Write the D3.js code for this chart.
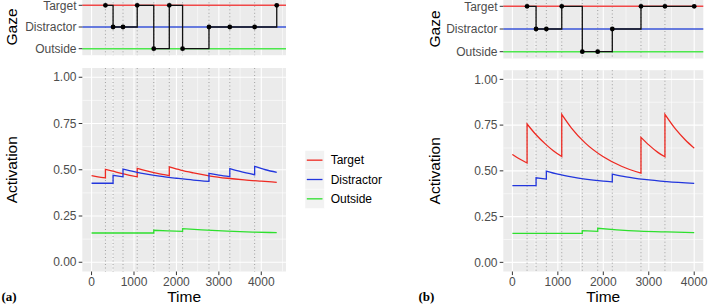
<!DOCTYPE html>
<html><head><meta charset="utf-8">
<script src="https://cdn.jsdelivr.net/npm/d3@7"></script>
<style>body{margin:0;background:#fff}svg{display:block}text{font-family:"Liberation Sans",Arial,sans-serif}text.tag{font-family:"Liberation Serif","Times New Roman",serif;font-weight:bold}</style>
</head><body><svg id="c" width="709" height="305"></svg>
<script>
// ---------- data ----------
const xTicks = [0, 1000, 2000, 3000, 4000];
const xTickLabels = ["0", "1000", "2000", "3000", "4000"];
const yTicks = [0, 0.25, 0.5, 0.75, 1];
const yTickLabels = ["0.00", "0.25", "0.50", "0.75", "1.00"];
const gazeLevels = ["Target", "Distractor", "Outside"];
const seriesNames = ["Target", "Distractor", "Outside"];

// panel (a)
const gazeTimeA = [327, 507, 741, 1076, 1466, 1832, 2145, 2767, 3258, 3843, 4364];
const gazeStateA = ["Target", "Distractor", "Distractor", "Target", "Outside", "Target", "Outside", "Distractor", "Distractor", "Distractor", "Target"];
const targetA = [[0,0.468],[150,0.462],[327,0.456],[327,0.502],[500,0.492],[700,0.480],[900,0.470],[1076,0.462],[1076,0.508],[1300,0.494],[1550,0.480],[1832,0.468],[1832,0.515],[2100,0.498],[2400,0.483],[2800,0.466],[3200,0.454],[3600,0.445],[4000,0.438],[4364,0.432]];
const distractorA = [[0,0.427],[507,0.427],[507,0.470],[741,0.462],[741,0.504],[1000,0.490],[1300,0.476],[1600,0.465],[2000,0.454],[2400,0.444],[2767,0.437],[2767,0.481],[3000,0.471],[3258,0.463],[3258,0.506],[3500,0.491],[3843,0.473],[3843,0.518],[4100,0.500],[4364,0.486]];
const outsideA = [[0,0.158],[1466,0.158],[1466,0.173],[1800,0.170],[2145,0.167],[2145,0.182],[2600,0.175],[3200,0.168],[3800,0.163],[4364,0.160]];

// panel (b)
const gazeTimeB = [323, 521, 747, 1086, 1538, 1877, 2198, 2829, 3356, 4000];
const gazeStateB = ["Target", "Distractor", "Distractor", "Target", "Outside", "Outside", "Distractor", "Target", "Target", "Target"];
const targetB = [[0,0.590],[150,0.566],[323,0.543],[323,0.756],[521,0.697],[747,0.642],[900,0.610],[1086,0.578],[1086,0.809],[1300,0.734],[1600,0.653],[2000,0.577],[2400,0.525],[2829,0.487],[2829,0.683],[3000,0.642],[3200,0.601],[3356,0.577],[3356,0.809],[3600,0.725],[3800,0.670],[4000,0.624]];
const distractorB = [[0,0.419],[521,0.419],[521,0.462],[747,0.455],[747,0.499],[1000,0.482],[1300,0.467],[1600,0.455],[2000,0.444],[2198,0.440],[2198,0.482],[2500,0.467],[2900,0.453],[3400,0.441],[4000,0.432]];
const outsideB = [[0,0.158],[1538,0.158],[1538,0.173],[1877,0.169],[1877,0.186],[2300,0.178],[2800,0.171],[3400,0.166],[4000,0.162]];

// ---------- drawing ----------
const svg = d3.select("#c");
const lineColor = {Target: "#ee2a22", Distractor: "#2236dd", Outside: "#2ee02e"};
const hlineColor = {Target: "#f04848", Distractor: "#3a55d8", Outside: "#4de84d"};
const BG = "#ebebeb";

function buildPath(pts, x, y) {
  const segs = [];
  let cur = [pts[0]];
  for (let i = 1; i < pts.length; i++) {
    if (pts[i][0] === pts[i - 1][0]) { segs.push(cur); cur = [pts[i]]; }
    else cur.push(pts[i]);
  }
  segs.push(cur);
  const gen = d3.line().x(d => x(d[0])).y(d => y(d[1])).curve(d3.curveMonotoneX);
  return segs.map((s, i) => { const d = gen(s); return i ? "L" + d.slice(1) : d; }).join("");
}

function drawPanel(cfg) {
  const T = cfg.tMax;
  const x = d3.scaleLinear().domain([-0.05 * T, 1.05 * T]).range([cfg.left, cfg.right]);
  const [xl, xr] = x.domain();
  const minorX = d3.range(-500, xr, 1000).filter(v => v > xl && v < xr);
  const onsets = cfg.gazeTime.slice(0, -1);

  // ---- gaze panel ----
  const gy = d3.scalePoint().domain(gazeLevels).range([cfg.gTop, cfg.gBottom]).padding(0.3);
  const g1 = svg.append("g");
  g1.append("rect").attr("x", cfg.left).attr("y", cfg.gTop).attr("width", cfg.right - cfg.left).attr("height", cfg.gBottom - cfg.gTop).attr("fill", BG);
  g1.selectAll(".mn").data(minorX).join("line").attr("x1", d => x(d)).attr("x2", d => x(d)).attr("y1", cfg.gTop).attr("y2", cfg.gBottom).attr("stroke", "#fff").attr("stroke-width", 0.55);
  g1.selectAll(".mj").data(xTicks).join("line").attr("x1", d => x(d)).attr("x2", d => x(d)).attr("y1", cfg.gTop).attr("y2", cfg.gBottom).attr("stroke", "#fff").attr("stroke-width", 1.1);
  g1.selectAll(".dt").data(onsets).join("line").attr("x1", d => x(d)).attr("x2", d => x(d)).attr("y1", cfg.gTop).attr("y2", cfg.gBottom).attr("stroke", "#999").attr("stroke-width", 0.9).attr("stroke-dasharray", "1,2.5");
  g1.selectAll(".hl").data(gazeLevels).join("line").attr("x1", cfg.left).attr("x2", cfg.right).attr("y1", d => gy(d)).attr("y2", d => gy(d)).attr("stroke", d => hlineColor[d]).attr("stroke-width", 1.4);
  const pts = cfg.gazeTime.map((t, i) => [t, cfg.gazeState[i]]);
  g1.append("path").attr("d", d3.line().x(d => x(d[0])).y(d => gy(d[1])).curve(d3.curveStepAfter)(pts)).attr("fill", "none").attr("stroke", "#111").attr("stroke-width", 1.3);
  g1.selectAll(".pt").data(pts).join("circle").attr("cx", d => x(d[0])).attr("cy", d => gy(d[1])).attr("r", 2.4).attr("fill", "#000");
  g1.selectAll(".gt").data(gazeLevels).join("line").attr("x1", cfg.left - 3.6).attr("x2", cfg.left).attr("y1", d => gy(d)).attr("y2", d => gy(d)).attr("stroke", "#333").attr("stroke-width", 1);
  g1.selectAll(".gl").data(gazeLevels).join("text").attr("x", cfg.left - 5.8).attr("y", d => gy(d) + 4.2).attr("text-anchor", "end").attr("font-size", 12).attr("fill", "#4d4d4d").text(d => d);
  g1.append("text").attr("transform", `translate(${cfg.titleX},${(cfg.gTop + cfg.gBottom) / 2}) rotate(-90)`).attr("text-anchor", "middle").attr("font-size", 15.5).attr("fill", "#000").text("Gaze");

  // ---- activation panel ----
  const y = d3.scaleLinear().domain([-0.05, 1.05]).range([cfg.aBottom, cfg.aTop]);
  const g2 = svg.append("g");
  g2.append("rect").attr("x", cfg.left).attr("y", cfg.aTop).attr("width", cfg.right - cfg.left).attr("height", cfg.aBottom - cfg.aTop).attr("fill", BG);
  const minorY = [0.125, 0.375, 0.625, 0.875];
  g2.selectAll(".my").data(minorY).join("line").attr("x1", cfg.left).attr("x2", cfg.right).attr("y1", d => y(d)).attr("y2", d => y(d)).attr("stroke", "#fff").attr("stroke-width", 0.55);
  g2.selectAll(".mx").data(minorX).join("line").attr("x1", d => x(d)).attr("x2", d => x(d)).attr("y1", cfg.aTop).attr("y2", cfg.aBottom).attr("stroke", "#fff").attr("stroke-width", 0.55);
  g2.selectAll(".jy").data(yTicks).join("line").attr("x1", cfg.left).attr("x2", cfg.right).attr("y1", d => y(d)).attr("y2", d => y(d)).attr("stroke", "#fff").attr("stroke-width", 1.1);
  g2.selectAll(".jx").data(xTicks).join("line").attr("x1", d => x(d)).attr("x2", d => x(d)).attr("y1", cfg.aTop).attr("y2", cfg.aBottom).attr("stroke", "#fff").attr("stroke-width", 1.1);
  g2.selectAll(".dt").data(onsets).join("line").attr("x1", d => x(d)).attr("x2", d => x(d)).attr("y1", cfg.aTop).attr("y2", cfg.aBottom).attr("stroke", "#999").attr("stroke-width", 0.9).attr("stroke-dasharray", "1,2.5");
  const series = [["Target", cfg.target], ["Distractor", cfg.distractor], ["Outside", cfg.outside]];
  series.forEach(([name, data]) => {
    g2.append("path").attr("d", buildPath(data, x, y)).attr("fill", "none").attr("stroke", lineColor[name]).attr("stroke-width", 1.3);
  });
  // axes
  g2.selectAll(".yt").data(yTicks).join("line").attr("x1", cfg.left - 3.6).attr("x2", cfg.left).attr("y1", d => y(d)).attr("y2", d => y(d)).attr("stroke", "#333").attr("stroke-width", 1);
  g2.selectAll(".yl").data(yTicks).join("text").attr("x", cfg.left - 5.8).attr("y", d => y(d) + 4.2).attr("text-anchor", "end").attr("font-size", 12).attr("fill", "#4d4d4d").text((d, i) => yTickLabels[i]);
  g2.selectAll(".xt").data(xTicks).join("line").attr("x1", d => x(d)).attr("x2", d => x(d)).attr("y1", cfg.aBottom).attr("y2", cfg.aBottom + 3.6).attr("stroke", "#333").attr("stroke-width", 1);
  g2.selectAll(".xl").data(xTicks).join("text").attr("x", d => x(d)).attr("y", cfg.aBottom + 14.5).attr("text-anchor", "middle").attr("font-size", 12).attr("fill", "#4d4d4d").text((d, i) => xTickLabels[i]);
  g2.append("text").attr("x", (cfg.left + cfg.right) / 2).attr("y", 301.5).attr("text-anchor", "middle").attr("font-size", 15.5).attr("fill", "#000").text("Time");
  g2.append("text").attr("transform", `translate(${cfg.titleX},${(cfg.aTop + cfg.aBottom) / 2}) rotate(-90)`).attr("text-anchor", "middle").attr("font-size", 15.5).attr("fill", "#000").text("Activation");
  svg.append("text").attr("class", "tag").attr("x", cfg.tagX).attr("y", 301).attr("font-size", 13).attr("fill", "#000").text(cfg.tag);
}

drawPanel({tMax: 4364, left: 82.3, right: 286, gTop: -1.2, gBottom: 55.2, aTop: 68, aBottom: 271.5, titleX: 17, tagX: 1.5, tag: "(a)",
  gazeTime: gazeTimeA, gazeState: gazeStateA, target: targetA, distractor: distractorA, outside: outsideA});
drawPanel({tMax: 4000, left: 503.3, right: 703.3, gTop: -0.5, gBottom: 58.5, aTop: 70.2, aBottom: 271.5, titleX: 440, tagX: 418.5, tag: "(b)",
  gazeTime: gazeTimeB, gazeState: gazeStateB, target: targetB, distractor: distractorB, outside: outsideB});

// legend (panel a)
const lg = svg.append("g");
const keyY = d3.scaleBand().domain(seriesNames).range([150.5, 208.5]);
lg.selectAll("rect").data(seriesNames).join("rect").attr("x", 305).attr("y", d => keyY(d)).attr("width", 19.3).attr("height", keyY.bandwidth()).attr("fill", "#f2f2f2").attr("stroke", "#fff").attr("stroke-width", 0.5);
lg.selectAll(".k").data(seriesNames).join("line").attr("x1", 306.8).attr("x2", 322.5).attr("y1", d => keyY(d) + keyY.bandwidth() / 2).attr("y2", d => keyY(d) + keyY.bandwidth() / 2).attr("stroke", d => lineColor[d]).attr("stroke-width", 1.3);
lg.selectAll("text").data(seriesNames).join("text").attr("x", 330.7).attr("y", d => keyY(d) + keyY.bandwidth() / 2 + 4.2).attr("font-size", 12).attr("fill", "#000").text(d => d);
</script></body></html>
